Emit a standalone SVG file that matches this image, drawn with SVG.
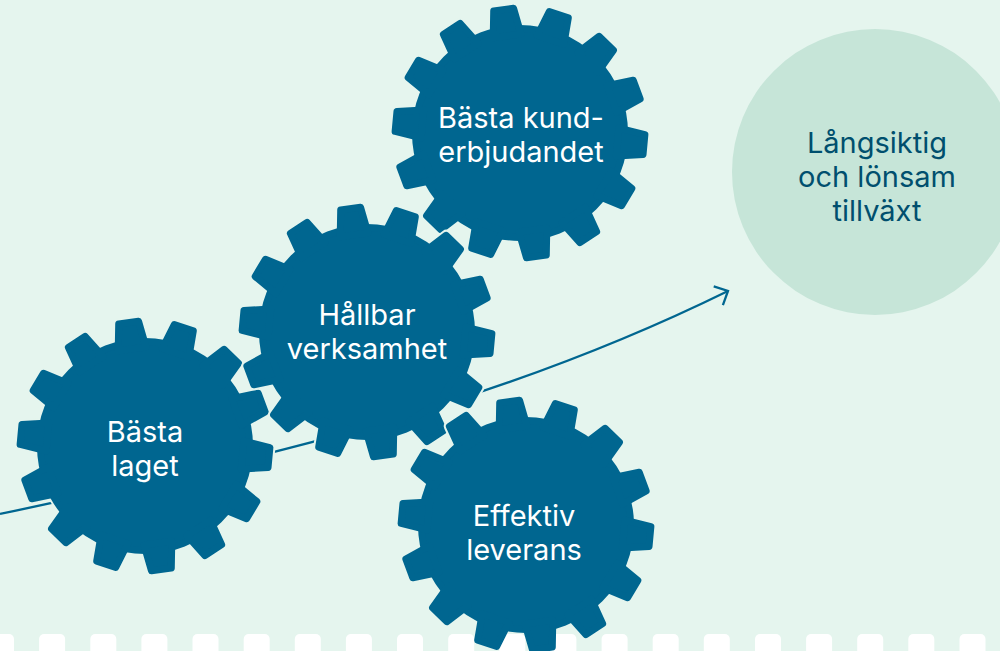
<svg xmlns="http://www.w3.org/2000/svg" xmlns:xlink="http://www.w3.org/1999/xlink" width="1000" height="651" viewBox="0 0 1000 651">
  <style>
    .gbg { fill:#E5F5EE; stroke:#E5F5EE; stroke-width:11; stroke-linejoin:round; }
    .gfg { fill:#006690; stroke:#006690; stroke-width:7; stroke-linejoin:round; }
    .gtxt { font-family:Inter, "Liberation Sans", sans-serif; font-size:29px; fill:#FFFFFF; text-anchor:middle; }
    .ctxt { font-family:Inter, "Liberation Sans", sans-serif; font-size:29px; fill:#004F6E; text-anchor:middle; }
    .strip { fill:#FFFFFF; }
    .arrow { fill:none; stroke:#006690; stroke-width:2.3; }
  </style>
  <defs>
    <path id="tooth" d="M98,-14 L124.5,-10 L124.5,10 L98,14 Z"/>
    <g id="gear">
      <circle r="104.5"/>
      <use href="#tooth" transform="rotate(5.3)"/>
      <use href="#tooth" transform="rotate(31.01)"/>
      <use href="#tooth" transform="rotate(56.73)"/>
      <use href="#tooth" transform="rotate(82.44)"/>
      <use href="#tooth" transform="rotate(108.16)"/>
      <use href="#tooth" transform="rotate(133.87)"/>
      <use href="#tooth" transform="rotate(159.59)"/>
      <use href="#tooth" transform="rotate(185.3)"/>
      <use href="#tooth" transform="rotate(211.01)"/>
      <use href="#tooth" transform="rotate(236.73)"/>
      <use href="#tooth" transform="rotate(262.44)"/>
      <use href="#tooth" transform="rotate(288.16)"/>
      <use href="#tooth" transform="rotate(313.87)"/>
      <use href="#tooth" transform="rotate(339.59)"/>
    </g>
    <clipPath id="aboveStrip"><rect x="0" y="0" width="1000" height="634"/></clipPath>
    <marker id="chev" markerUnits="userSpaceOnUse" markerWidth="30" markerHeight="30" viewBox="-15 -15 30 30" refX="0" refY="0" orient="auto" overflow="visible">
      <path d="M-10.8,-10.4 L0,0 L-10.8,10.4" fill="none" stroke="#006690" stroke-width="2.3"/>
    </marker>
  </defs>

  <rect x="0" y="0" width="1000" height="651" fill="#E5F5EE"/>

  <g id="strip">
    <rect class="strip" x="-12" y="634" width="26" height="30" rx="5"/>
    <rect class="strip" x="39.1" y="634" width="26" height="30" rx="5"/>
    <rect class="strip" x="90.3" y="634" width="26" height="30" rx="5"/>
    <rect class="strip" x="141.4" y="634" width="26" height="30" rx="5"/>
    <rect class="strip" x="192.5" y="634" width="26" height="30" rx="5"/>
    <rect class="strip" x="243.7" y="634" width="26" height="30" rx="5"/>
    <rect class="strip" x="294.8" y="634" width="26" height="30" rx="5"/>
    <rect class="strip" x="345.9" y="634" width="26" height="30" rx="5"/>
    <rect class="strip" x="397" y="634" width="26" height="30" rx="5"/>
    <rect class="strip" x="448.2" y="634" width="26" height="30" rx="5"/>
    <rect class="strip" x="499.3" y="634" width="26" height="30" rx="5"/>
    <rect class="strip" x="550.4" y="634" width="26" height="30" rx="5"/>
    <rect class="strip" x="601.6" y="634" width="26" height="30" rx="5"/>
    <rect class="strip" x="652.7" y="634" width="26" height="30" rx="5"/>
    <rect class="strip" x="703.8" y="634" width="26" height="30" rx="5"/>
    <rect class="strip" x="755" y="634" width="26" height="30" rx="5"/>
    <rect class="strip" x="806.1" y="634" width="26" height="30" rx="5"/>
    <rect class="strip" x="857.2" y="634" width="26" height="30" rx="5"/>
    <rect class="strip" x="908.3" y="634" width="26" height="30" rx="5"/>
    <rect class="strip" x="959.5" y="634" width="26" height="30" rx="5"/>
  </g>

  <g id="node-tillvaxt">
    <circle cx="875" cy="172" r="143" fill="#C6E5D8"/>
    <text class="ctxt" x="877" y="153">Långsiktig</text>
    <text class="ctxt" x="877" y="187">och lönsam</text>
    <text class="ctxt" x="877" y="221">tillväxt</text>
  </g>

  <g id="connectors">
    <path class="arrow" d="M0,514 C243,462.3 485,410.6 728,291" marker-end="url(#chev)"/>
  </g>

  <g id="node-kunderbjudandet">
    <use href="#gear" class="gbg" transform="translate(520,133)"/>
    <use href="#gear" class="gfg" transform="translate(520,133)"/>
    <text class="gtxt" x="521" y="128">Bästa kund-</text>
    <text class="gtxt" x="521" y="162">erbjudandet</text>
  </g>

  <g id="node-laget">
    <use href="#gear" class="gbg" transform="translate(145,446)"/>
    <use href="#gear" class="gfg" transform="translate(145,446)"/>
    <text class="gtxt" x="145" y="442">Bästa</text>
    <text class="gtxt" x="145" y="476">laget</text>
  </g>

  <g id="node-hallbar">
    <use href="#gear" class="gbg" transform="translate(367,332)"/>
    <use href="#gear" class="gfg" transform="translate(367,332)"/>
    <text class="gtxt" x="367" y="325">Hållbar</text>
    <text class="gtxt" x="367" y="359">verksamhet</text>
  </g>

  <g id="node-leverans">
    <g clip-path="url(#aboveStrip)">
      <use href="#gear" class="gbg" transform="translate(526,525)"/>
    </g>
    <use href="#gear" class="gfg" transform="translate(526,525)"/>
    <text class="gtxt" x="524" y="526">Effektiv</text>
    <text class="gtxt" x="524" y="560">leverans</text>
  </g>
</svg>
